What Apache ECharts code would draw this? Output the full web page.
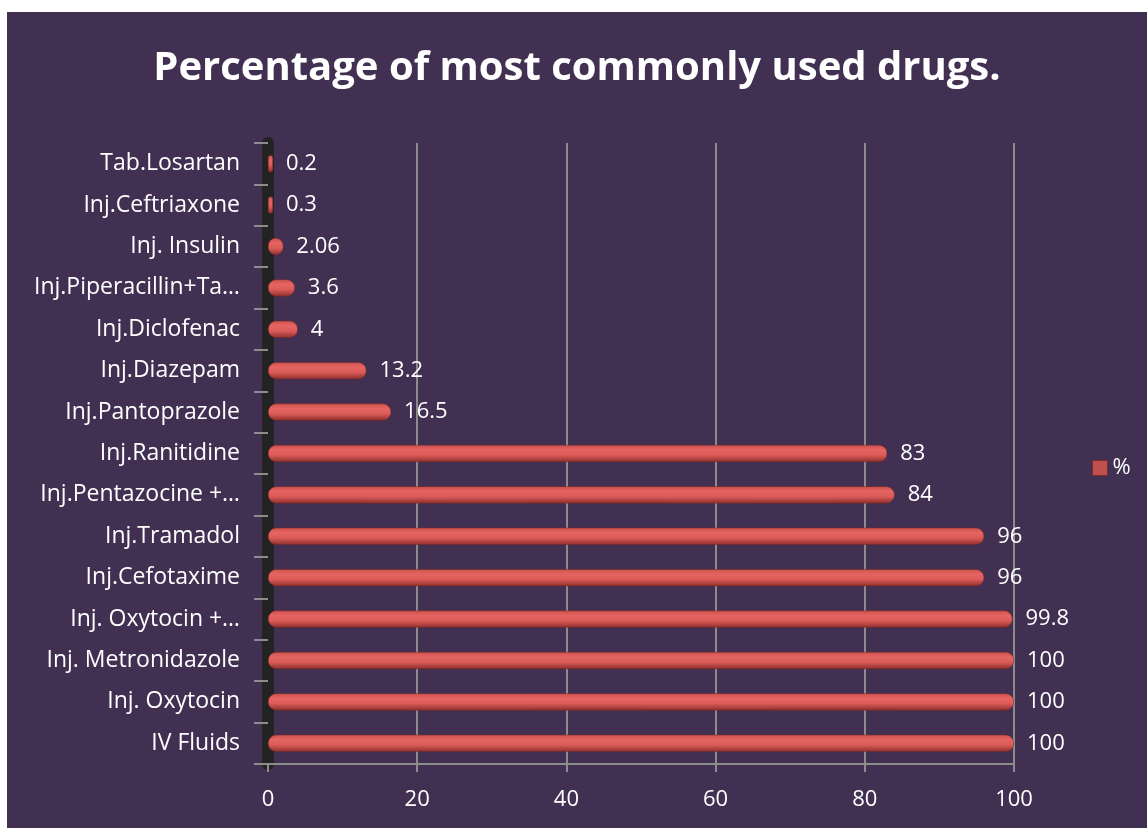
<!DOCTYPE html>
<html>
<head>
<meta charset="utf-8">
<script src="https://cdn.jsdelivr.net/npm/echarts@6/dist/echarts.min.js"></script>
<style>
html,body{margin:0;padding:0;background:#ffffff;width:1147px;height:828px;overflow:hidden;}
#chart{position:absolute;left:7px;top:12px;width:1140px;height:816px;}
</style>
</head>
<body>
<div id="chart"></div>
<script>
const titleText = 'Percentage of most commonly used drugs.';
const seriesName = '%';
const categories = ['IV Fluids','Inj. Oxytocin','Inj. Metronidazole','Inj. Oxytocin +…','Inj.Cefotaxime','Inj.Tramadol','Inj.Pentazocine +…','Inj.Ranitidine','Inj.Pantoprazole','Inj.Diazepam','Inj.Diclofenac','Inj.Piperacillin+Ta…','Inj. Insulin','Inj.Ceftriaxone','Tab.Losartan'];
const values = [100,100,100,99.8,96,96,84,83,16.5,13.2,4,3.6,2.06,0.3,0.2];
const xTicks = [0,20,40,60,80,100];

const fontFam = '"Open Sans", "Noto Sans", sans-serif';
const chart = echarts.init(document.getElementById('chart'));
const barGrad = new echarts.graphic.LinearGradient(0,0,0,1,[
  {offset:0,color:'#cc524e'},
  {offset:0.3,color:'#e66563'},
  {offset:0.6,color:'#da5b58'},
  {offset:1,color:'#8e2f2c'}
]);
chart.setOption({
  backgroundColor:'#413051',
  animation:false,
  title:{text:titleText,left:'center',top:32,
    textStyle:{color:'#ffffff',fontSize:40,fontWeight:'bold',fontFamily:fontFam}},
  legend:{data:[seriesName],left:1080,top:440,icon:'rect',itemWidth:15,itemHeight:15,itemGap:6,
    textStyle:{color:'#ffffff',fontSize:22,fontFamily:fontFam},
    itemStyle:{color:'#c0504d',borderColor:'#7a2a28',borderWidth:1}},
  grid:{left:261,top:131,width:746,height:621,containLabel:false},
  xAxis:{type:'value',min:0,max:100,interval:20,
    axisLine:{show:true,lineStyle:{color:'#8c8c8c',width:2}},
    axisTick:{show:true,length:8,lineStyle:{color:'#8c8c8c',width:2}},
    axisLabel:{color:'#ffffff',fontSize:22,fontFamily:fontFam,margin:25,
      formatter:function(v){return xTicks.indexOf(v)>=0?String(v):'';}},
    splitLine:{show:true,lineStyle:{color:'#8c8c8c',width:2}}},
  yAxis:{type:'category',data:categories,
    axisLine:{show:true,lineStyle:{color:'#232323',width:12}},
    axisTick:{show:true,length:14,lineStyle:{color:'#8c8c8c',width:2}},
    axisLabel:{color:'#ffffff',fontSize:23,fontFamily:fontFam,margin:28}},
  series:[{name:seriesName,type:'bar',data:values,barWidth:17,barMinHeight:5,
    itemStyle:{color:barGrad,borderRadius:8,borderColor:'#7a2725',borderWidth:0.5},
    label:{show:true,position:'right',distance:13,color:'#ffffff',fontSize:22,fontFamily:fontFam}}]
});
</script>
</body>
</html>
